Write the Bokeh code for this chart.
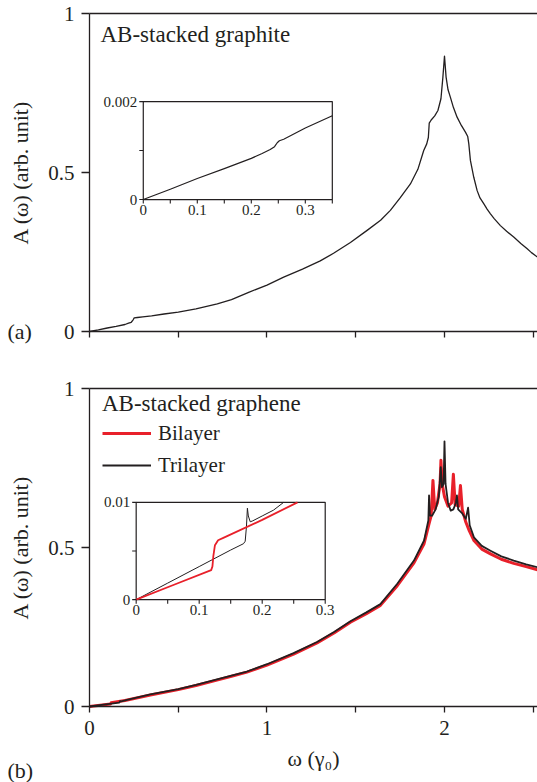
from bokeh.plotting import figure
from bokeh.layouts import column
from bokeh.models import (Range1d, FixedTicker, LinearAxis, Legend, LegendItem, Label)
from bokeh.embed import file_html
from bokeh.resources import INLINE
from bokeh.core.properties import value

FONT = "Liberation Serif"
INK = "#231f20"
RED = "#e8202a"

# ---------------- data ----------------
# (a) AB-stacked graphite
w_graphite = [0, 0.05, 0.10, 0.15, 0.20, 0.22, 0.235, 0.245, 0.252, 0.27, 0.30, 0.35, 0.42,
              0.50, 0.60, 0.72, 0.80, 0.90, 1.0, 1.094, 1.2, 1.3, 1.375, 1.47, 1.564, 1.64,
              1.695, 1.75, 1.808, 1.85, 1.883, 1.90, 1.909, 1.914, 1.925, 1.945, 1.963,
              1.98, 1.991, 2.0, 2.009, 2.02, 2.033, 2.05, 2.071, 2.095, 2.118, 2.131, 2.137,
              2.146, 2.165, 2.184, 2.2, 2.221, 2.24, 2.259, 2.28, 2.315, 2.35, 2.39, 2.43,
              2.466, 2.49, 2.524]
A_graphite = [0, 0.005, 0.011, 0.016, 0.022, 0.026, 0.029, 0.036, 0.043, 0.044, 0.046, 0.049,
              0.055, 0.061, 0.071, 0.087, 0.100, 0.124, 0.146, 0.171, 0.196, 0.222, 0.246,
              0.28, 0.318, 0.35, 0.381, 0.42, 0.464, 0.51, 0.569, 0.59, 0.61, 0.655, 0.665,
              0.678, 0.695, 0.732, 0.80, 0.866, 0.80, 0.76, 0.737, 0.705, 0.674, 0.648,
              0.627, 0.613, 0.59, 0.538, 0.485, 0.443, 0.420, 0.402, 0.385, 0.37, 0.355,
              0.333, 0.315, 0.297, 0.277, 0.26, 0.248, 0.234]

# inset (a)
w_graphite_low = [0, 0.05, 0.1, 0.15, 0.2, 0.22, 0.235, 0.243, 0.248, 0.252, 0.26, 0.3, 0.35]
A_graphite_low = [0, 0.00021, 0.00043, 0.00063, 0.00084, 0.00094, 0.00102, 0.00108,
                  0.00116, 0.0012, 0.00123, 0.00146, 0.00171]

# (b) AB-stacked graphene
w_bilayer = [0, 0.06, 0.118, 0.122, 0.13, 0.2, 0.343, 0.5, 0.6, 0.718, 0.8, 0.887, 1.0,
             1.15, 1.282, 1.38, 1.47, 1.56, 1.639, 1.734, 1.828, 1.885, 1.911, 1.925,
             1.935, 1.945, 1.96, 1.975, 1.98, 1.987, 2.0, 2.02, 2.04, 2.05, 2.06, 2.08,
             2.09, 2.1, 2.12, 2.14, 2.166, 2.21, 2.259, 2.32, 2.39, 2.46, 2.524]
A_bilayer = [0, 0.004, 0.008, 0.012, 0.013, 0.019, 0.036, 0.053, 0.066, 0.083, 0.095, 0.108,
             0.13, 0.165, 0.2, 0.232, 0.265, 0.292, 0.318, 0.38, 0.452, 0.512, 0.57, 0.6,
             0.711, 0.62, 0.64, 0.70, 0.774, 0.70, 0.66, 0.63, 0.64, 0.73, 0.635, 0.63,
             0.695, 0.62, 0.58, 0.552, 0.522, 0.495, 0.48, 0.463, 0.45, 0.44, 0.43]

w_trilayer = [0, 0.08, 0.168, 0.172, 0.18, 0.2, 0.343, 0.5, 0.6, 0.718, 0.8, 0.887, 1.0,
              1.15, 1.282, 1.38, 1.47, 1.56, 1.639, 1.734, 1.828, 1.885, 1.909, 1.913,
              1.918, 1.93, 1.95, 1.968, 1.979, 1.986, 1.995, 2.0, 2.006, 2.02, 2.035, 2.05,
              2.064, 2.07, 2.077, 2.1, 2.12, 2.133, 2.142, 2.166, 2.21, 2.259, 2.32, 2.39,
              2.46, 2.524]
A_trilayer = [0, 0.006, 0.012, 0.017, 0.016, 0.019, 0.038, 0.055, 0.068, 0.085, 0.097,
              0.11, 0.133, 0.168, 0.203, 0.235, 0.268, 0.296, 0.322, 0.386, 0.459, 0.522,
              0.585, 0.664, 0.60, 0.60, 0.62, 0.66, 0.753, 0.69, 0.70, 0.834, 0.70, 0.64,
              0.616, 0.62, 0.64, 0.664, 0.62, 0.607, 0.59, 0.625, 0.57, 0.532, 0.505, 0.49,
              0.472, 0.459, 0.447, 0.438]

# inset (b)
w_bilayer_low = [0, 0.06, 0.119, 0.121, 0.1225, 0.125, 0.13, 0.14, 0.2, 0.256]
A_bilayer_low = [0, 0.00153, 0.00303, 0.0034, 0.0045, 0.0056, 0.0061, 0.0064, 0.0082, 0.0100]
w_trilayer_low = [0, 0.05, 0.1, 0.15, 0.1703, 0.173, 0.175, 0.1765, 0.178, 0.181, 0.185,
                  0.2, 0.218, 0.234]
A_trilayer_low = [0, 0.0017, 0.0034, 0.0051, 0.00575, 0.0060, 0.0075, 0.0094, 0.0086,
                  0.0080, 0.0081, 0.0086, 0.0092, 0.0100]

# axes / ticks
x_max = 2.524
y_max = 1.0
x_major = [0, 1, 2]
x_minor = [0.5, 1.5, 2.5]
y_ticks = [0, 0.5, 1]
y_tick_labels = ["0", "0.5", "1"]

inset_a_xrange = (0, 0.35)
inset_a_yrange = (0, 0.002)
inset_a_xticks = [0, 0.05, 0.1, 0.15, 0.2, 0.25, 0.3, 0.35]
inset_a_xlabel_at = [0, 0.1, 0.2, 0.3]
inset_a_xlabels = ["0", "0.1", "0.2", "0.3"]
inset_a_yticks = [0, 0.001, 0.002]
inset_a_ylabel_at = [0, 0.002]
inset_a_ylabels = ["0", "0.002"]

inset_b_xrange = (0, 0.3)
inset_b_yrange = (0, 0.01)
inset_b_xticks = [0, 0.05, 0.1, 0.15, 0.2, 0.25, 0.3]
inset_b_xlabel_at = [0, 0.1, 0.2, 0.3]
inset_b_xlabels = ["0", "0.1", "0.2", "0.3"]
inset_b_yticks = [0, 0.005, 0.01]
inset_b_ylabel_at = [0, 0.01]
inset_b_ylabels = ["0", "0.01"]

# ---------------- layout constants (pixels) ----------------
W = 537
PLOT_LEFT = 89          # where x = 0 sits
PLOT_W = W - PLOT_LEFT  # pixels from x = 0 to x = x_max
PLOT_H = 318            # pixels from y = 0 to y = 1

# inset placement inside the main panels (parent data coordinates)
inset_a_box = ((0.303, 1.368), (0.415, 0.723))
inset_b_box = ((0.263, 1.328), (0.336, 0.642))


def style_axis(ax):
    ax.axis_line_color = INK
    ax.axis_line_width = 1.3
    ax.major_tick_line_color = INK
    ax.major_tick_line_width = 1.3
    ax.minor_tick_line_color = INK
    ax.minor_tick_line_width = 1.3
    ax.major_tick_in = 0
    ax.minor_tick_in = 0
    ax.major_label_text_font = FONT
    ax.major_label_text_font_size = "21px"
    ax.major_label_text_color = INK
    ax.axis_label_text_font = FONT
    ax.axis_label_text_font_size = "22px"
    ax.axis_label_text_font_style = "normal"
    ax.axis_label_text_color = INK


def make_panel(height, pad_top, show_xlabels):
    # the frame covers the whole canvas; the axes are pinned at x = 0 / y = 0
    xu = PLOT_W / x_max
    yu = PLOT_H / y_max
    pad_bottom = height - pad_top - PLOT_H
    p = figure(frame_width=W, frame_height=height,
               x_range=Range1d(-PLOT_LEFT / xu, x_max),
               y_range=Range1d(-pad_bottom / yu, y_max + pad_top / yu),
               x_axis_location=None, y_axis_location=None,
               output_backend="svg", toolbar_location=None,
               min_border=0, min_border_left=0, min_border_right=0,
               min_border_top=0, min_border_bottom=0,
               background_fill_color="white", border_fill_color="white")
    p.outline_line_color = None
    p.grid.visible = False

    ya = LinearAxis(fixed_location=0, bounds=(0, y_max),
                    ticker=FixedTicker(ticks=y_ticks, minor_ticks=[]))
    ya.major_label_overrides = dict(zip(y_ticks, y_tick_labels))
    style_axis(ya)
    ya.major_tick_out = 8
    ya.major_label_standoff = 7
    ya.axis_label = "A (ω) (arb. unit)"
    ya.axis_label_standoff = 12
    p.add_layout(ya, "left")

    xa = LinearAxis(fixed_location=0, bounds=(0, x_max))
    style_axis(xa)
    xa.major_tick_out = 6
    xa.minor_tick_out = 6
    if show_xlabels:
        xa.ticker = FixedTicker(ticks=x_major, minor_ticks=x_minor)
        xa.major_label_standoff = 8
        xa.axis_label = "ω (γ₀)"
        xa.axis_label_standoff = 8
    else:
        xa.ticker = FixedTicker(ticks=[], minor_ticks=sorted(x_major + x_minor))
    p.add_layout(xa, "below")

    top_ax = LinearAxis(fixed_location=y_max, bounds=(0, x_max),
                        ticker=FixedTicker(ticks=[], minor_ticks=[]))
    style_axis(top_ax)
    top_ax.major_tick_out = 0
    top_ax.minor_tick_out = 0
    p.add_layout(top_ax, "above")
    return p


def draw_inset(p, box, xr, yr, xticks, xlabel_at, xlabels, yticks, ylabel_at, ylabels, series):
    sub = p.subplot(x_source=Range1d(*xr), y_source=Range1d(*yr),
                    x_target=Range1d(*box[0]), y_target=Range1d(*box[1]))
    sub.quad(left=[xr[0]], right=[xr[1]], bottom=[yr[0]], top=[yr[1]],
             fill_color="white", line_color=INK, line_width=1.2)
    for xs, ys, color, lw in series:
        sub.line(xs, ys, line_color=color, line_width=lw, line_join="round")
    sub.ray(x=xticks, y=[yr[0]] * len(xticks), length=4, length_units="screen",
            angle=-90, angle_units="deg", line_color=INK, line_width=1.1)
    sub.ray(x=[xr[0]] * len(yticks), y=yticks, length=4, length_units="screen",
            angle=180, angle_units="deg", line_color=INK, line_width=1.1)
    sub.text(x=xlabel_at, y=[yr[0]] * len(xlabel_at), text=xlabels, text_font=value(FONT),
             text_font_size="15px", text_color=INK, text_align="center",
             text_baseline="top", y_offset=5)
    sub.text(x=[xr[0]] * len(ylabel_at), y=ylabel_at, text=ylabels, text_font=value(FONT),
             text_font_size="15px", text_color=INK, text_align="right",
             text_baseline="middle", x_offset=-6)


# ---------------- panel (a) ----------------
pa = make_panel(360, 13, False)
pa.line(w_graphite, A_graphite, line_color=INK, line_width=1.3, line_join="round")
draw_inset(pa, inset_a_box, inset_a_xrange, inset_a_yrange, inset_a_xticks, inset_a_xlabel_at,
           inset_a_xlabels, inset_a_yticks, inset_a_ylabel_at, inset_a_ylabels,
           [(w_graphite_low, A_graphite_low, INK, 1.2)])
pa.add_layout(Label(x=0, y=y_max, x_offset=11, y_offset=-8, text="AB-stacked graphite",
                    text_font=FONT, text_font_size="23px", text_color=INK,
                    text_baseline="top"))
pa.add_layout(Label(x=0, y=0, x_offset=-82, y_offset=0, text="(a)",
                    text_font=FONT, text_font_size="22px", text_color=INK,
                    text_baseline="middle"))

# ---------------- panel (b) ----------------
pb = make_panel(422, 28, True)
r_bi = pb.line(w_bilayer, A_bilayer, line_color=RED, line_width=3, line_join="round")
r_tri = pb.line(w_trilayer, A_trilayer, line_color=INK, line_width=1.8, line_join="round")
draw_inset(pb, inset_b_box, inset_b_xrange, inset_b_yrange, inset_b_xticks, inset_b_xlabel_at,
           inset_b_xlabels, inset_b_yticks, inset_b_ylabel_at, inset_b_ylabels,
           [(w_trilayer_low, A_trilayer_low, INK, 1.0),
            (w_bilayer_low, A_bilayer_low, RED, 1.8)])
legend = Legend(items=[LegendItem(label="Bilayer", renderers=[r_bi]),
                       LegendItem(label="Trilayer", renderers=[r_tri])],
                title="AB-stacked graphene", location=(PLOT_LEFT + 13, 301),
                padding=0, margin=0, spacing=0,
                glyph_width=49, glyph_height=32, label_height=32, label_standoff=7,
                title_standoff=0,
                border_line_color=None, background_fill_alpha=0,
                title_text_font=FONT, title_text_font_size="23px",
                title_text_font_style="normal", title_text_color=INK,
                label_text_font=FONT, label_text_font_size="21px", label_text_color=INK)
pb.add_layout(legend)
pb.add_layout(Label(x=0, y=0, x_offset=-82, y_offset=-64, text="(b)",
                    text_font=FONT, text_font_size="22px", text_color=INK,
                    text_baseline="middle"))

layout = column(pa, pb, spacing=0)
open("out.html", "w").write(file_html(layout, INLINE))
